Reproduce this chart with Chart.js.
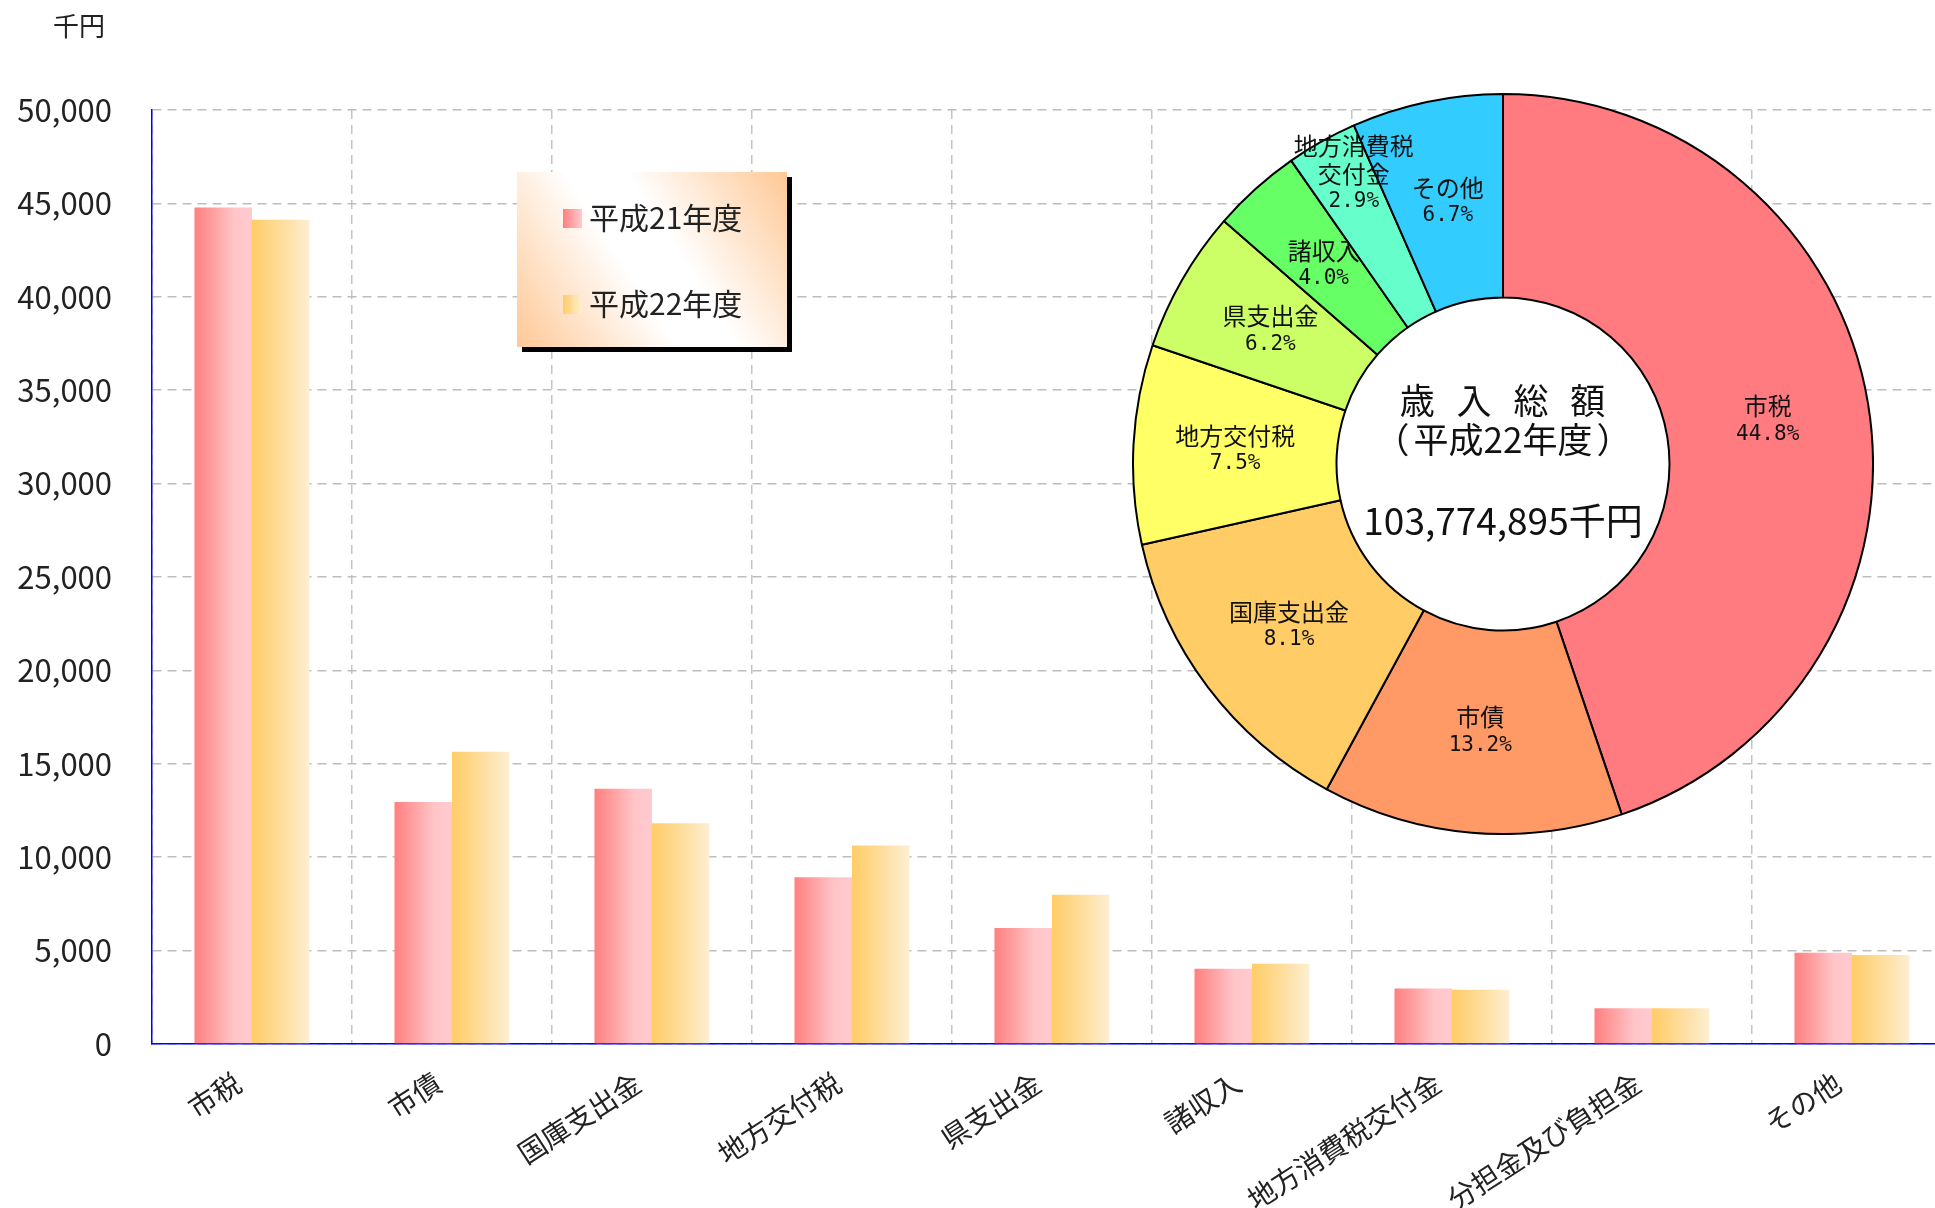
<!DOCTYPE html>
<html lang="ja">
<head>
<meta charset="utf-8">
<title>歳入総額</title>
<script src="https://cdn.jsdelivr.net/npm/chart.js@4.4.1/dist/chart.umd.min.js"></script>
<style>
  html, body { margin: 0; padding: 0; background: #fff; overflow: hidden; }
  #wrap { position: relative; width: 1935px; height: 1208px; overflow: hidden; }
  #barras { position: absolute; left: 0; top: 0; }
  #dona { position: absolute; left: 1132px; top: 93px; }
</style>
</head>
<body>
<div id="wrap">
  <canvas id="barras" width="1960" height="1208"></canvas>
  <canvas id="dona" width="742" height="742"></canvas>
</div>
<script>
// categories and values (千円 scale as on the axis)
const categorias = ['市税', '市債', '国庫支出金', '地方交付税', '県支出金', '諸収入', '地方消費税交付金', '分担金及び負担金', 'その他'];
const valoresH21 = [44780, 12950, 13670, 8920, 6210, 4030, 2970, 1920, 4890];
const valoresH22 = [44120, 15650, 11820, 10630, 7990, 4290, 2910, 1920, 4760];
const seriesNombres = ['平成21年度', '平成22年度'];
const yTicks = [0, 5000, 10000, 15000, 20000, 25000, 30000, 35000, 40000, 45000, 50000];

// doughnut (平成22年度)
const donaNombres = ['市税', '市債', '国庫支出金', '地方交付税', '県支出金', '諸収入', '地方消費税\n交付金', 'その他'];
const donaPartes = [44.8, 13.1, 13.6, 8.7, 6.2, 3.9, 3.1, 6.6];
const donaTextos = ['44.8%', '13.2%', '8.1%', '7.5%', '6.2%', '4.0%', '2.9%', '6.7%'];
const donaColores = ['#FF7B80', '#FF9966', '#FFCC66', '#FFFF66', '#CCFF66', '#66FF66', '#66FFCC', '#33CCFF'];
const centroTitulo = ['歳 入 総 額', '（平成22年度）'];
const centroTotal = '103,774,895千円';

const FUENTE = '"Noto Sans CJK JP", "Noto Sans", sans-serif';
Chart.defaults.font.family = FUENTE;
Chart.defaults.color = '#222';

const gradientes = [
    ['#FF7F7F', '#FFC6CA', '#FFCACE'],
    ['#FFCC66', '#FEE3B0', '#FDF0D2']
];

// horizontal gradient on each bar
const pluginGradiente = {
    id: 'gradiente',
    beforeDatasetsDraw(chart) {
        const ctx = chart.ctx;
        chart.data.datasets.forEach((ds, di) => {
            const meta = chart.getDatasetMeta(di);
            const g = gradientes[di];
            meta.data.forEach(bar => {
                const x0 = bar.x - bar.width / 2;
                const grad = ctx.createLinearGradient(x0, 0, x0 + bar.width, 0);
                grad.addColorStop(0, g[0]);
                grad.addColorStop(0.7, g[1]);
                grad.addColorStop(1, g[2]);
                bar.options = Object.assign({}, bar.options, { backgroundColor: grad });
            });
        });
    }
};

// legend box + unit label
const pluginLeyenda = {
    id: 'leyenda',
    afterDraw(chart) {
        const ctx = chart.ctx;
        const bx = 517, by = 172, bw = 270, bh = 175;
        ctx.save();
        ctx.fillStyle = '#000';
        ctx.fillRect(bx + 5, by + 5, bw, bh);
        const fondo = ctx.createLinearGradient(bx + bw, by, bx, by + bh);
        fondo.addColorStop(0, '#FFC896');
        fondo.addColorStop(0.42, '#FFFFFF');
        fondo.addColorStop(0.58, '#FFFFFF');
        fondo.addColorStop(1, '#FFC896');
        ctx.fillStyle = fondo;
        ctx.fillRect(bx, by, bw, bh);

        chart.data.datasets.forEach((ds, i) => {
            const y = 218 + i * 86;
            const g = gradientes[i];
            const m = ctx.createLinearGradient(563, 0, 582, 0);
            m.addColorStop(0, g[0]);
            m.addColorStop(1, g[2]);
            ctx.fillStyle = m;
            ctx.fillRect(563, y - 9, 19, 19);
            ctx.fillStyle = '#222';
            ctx.font = '30px ' + FUENTE;
            ctx.textAlign = 'left';
            ctx.textBaseline = 'middle';
            ctx.fillText(ds.label, 589, y);
        });

        ctx.font = '26px ' + FUENTE;
        ctx.textAlign = 'center';
        ctx.fillStyle = '#222';
        ctx.fillText('千円', 79, 26);
        ctx.restore();
    }
};

new Chart(document.getElementById('barras').getContext('2d'), {
    type: 'bar',
    data: {
        labels: categorias,
        datasets: [
            { label: seriesNombres[0], data: valoresH21, backgroundColor: '#FF7F7F', borderWidth: 0 },
            { label: seriesNombres[1], data: valoresH22, backgroundColor: '#FFCC66', borderWidth: 0 }
        ]
    },
    options: {
        responsive: false,
        animation: false,
        layout: { padding: { top: 110, right: 8, bottom: 0, left: 0 } },
        datasets: { bar: { categoryPercentage: 0.575, barPercentage: 1.0 } },
        plugins: { legend: { display: false }, tooltip: { enabled: false } },
        scales: {
            x: {
                grid: { color: '#C4C4C4', lineWidth: 1.5, drawTicks: false, offset: true },
                border: { color: '#0000FF', width: 1.5, dash: [9, 6] },
                ticks: {
                    autoSkip: false, minRotation: 33, maxRotation: 33,
                    padding: 22, labelOffset: -14, font: { size: 28 }, color: '#222'
                },
                afterFit(scale) { scale.height = 164; }
            },
            y: {
                min: 0, max: 50000,
                afterBuildTicks(scale) { scale.ticks = yTicks.map(v => ({ value: v })); },
                grid: { color: '#BDBDBD', lineWidth: 1.5, drawTicks: false },
                border: { color: '#0000FF', width: 1.5, dash: [9, 6] },
                ticks: {
                    padding: 40, font: { size: 31 }, color: '#222',
                    callback: v => v.toLocaleString('en-US')
                },
                afterFit(scale) { scale.width = 152; }
            }
        }
    },
    plugins: [pluginGradiente, pluginLeyenda]
});

// doughnut: white hole, slice labels, centre text
const pluginDona = {
    id: 'dona',
    beforeDatasetsDraw(chart) {
        const arc = chart.getDatasetMeta(0).data[0];
        const ctx = chart.ctx;
        ctx.save();
        ctx.fillStyle = '#fff';
        ctx.beginPath();
        ctx.arc(arc.x, arc.y, arc.innerRadius, 0, Math.PI * 2);
        ctx.fill();
        ctx.restore();
    },
    afterDatasetsDraw(chart) {
        const ctx = chart.ctx;
        const meta = chart.getDatasetMeta(0);
        ctx.save();
        ctx.textAlign = 'center';
        ctx.textBaseline = 'middle';
        ctx.fillStyle = '#111';
        meta.data.forEach((arc, i) => {
            const mid = (arc.startAngle + arc.endAngle) / 2;
            const lineas = donaNombres[i].split('\n').concat(donaTextos[i]);
            const r = lineas.length > 2 ? arc.outerRadius * 0.9 : (arc.innerRadius + arc.outerRadius) / 2;
            const cx = arc.x + Math.cos(mid) * r + (lineas.length > 2 ? 14 : 0);
            const cy = arc.y + Math.sin(mid) * r;
            lineas.forEach((t, k) => {
                const y = cy + (k - (lineas.length - 1) / 2) * 28;
                ctx.font = k === lineas.length - 1 ? '21px "DejaVu Sans Mono", monospace' : '24px ' + FUENTE;
                ctx.fillText(t, cx, y);
            });
        });

        const a = meta.data[0];
        ctx.fillStyle = '#111';
        ctx.font = '35px ' + FUENTE;
        const conEspacio = 'letterSpacing' in ctx;
        if (conEspacio) ctx.letterSpacing = '7px';
        ctx.fillText(centroTitulo[0], a.x + 3, a.y - 63);
        if (conEspacio) ctx.letterSpacing = '0px';

        // subtitle: brackets pushed out a little from the text
        const sub = centroTitulo[1];
        const medio = sub.slice(1, -1);
        const ancho = ctx.measureText(medio).width;
        ctx.fillText(medio, a.x, a.y - 24);
        ctx.textAlign = 'right';
        ctx.fillText(sub[0], a.x - ancho / 2 - 4, a.y - 24);
        ctx.textAlign = 'left';
        ctx.fillText(sub[sub.length - 1], a.x + ancho / 2 + 4, a.y - 24);

        ctx.textAlign = 'center';
        ctx.font = '37px ' + FUENTE;
        ctx.fillText(centroTotal, a.x, a.y + 57);
        ctx.restore();
    }
};

new Chart(document.getElementById('dona').getContext('2d'), {
    type: 'doughnut',
    data: {
        labels: donaNombres,
        datasets: [{
            data: donaPartes,
            backgroundColor: donaColores,
            borderColor: '#000',
            borderWidth: 2,
            borderAlign: 'center'
        }]
    },
    options: {
        responsive: false,
        animation: false,
        cutout: '45%',
        layout: { padding: 0 },
        plugins: { legend: { display: false }, tooltip: { enabled: false } }
    },
    plugins: [pluginDona]
});
</script>
</body>
</html>
